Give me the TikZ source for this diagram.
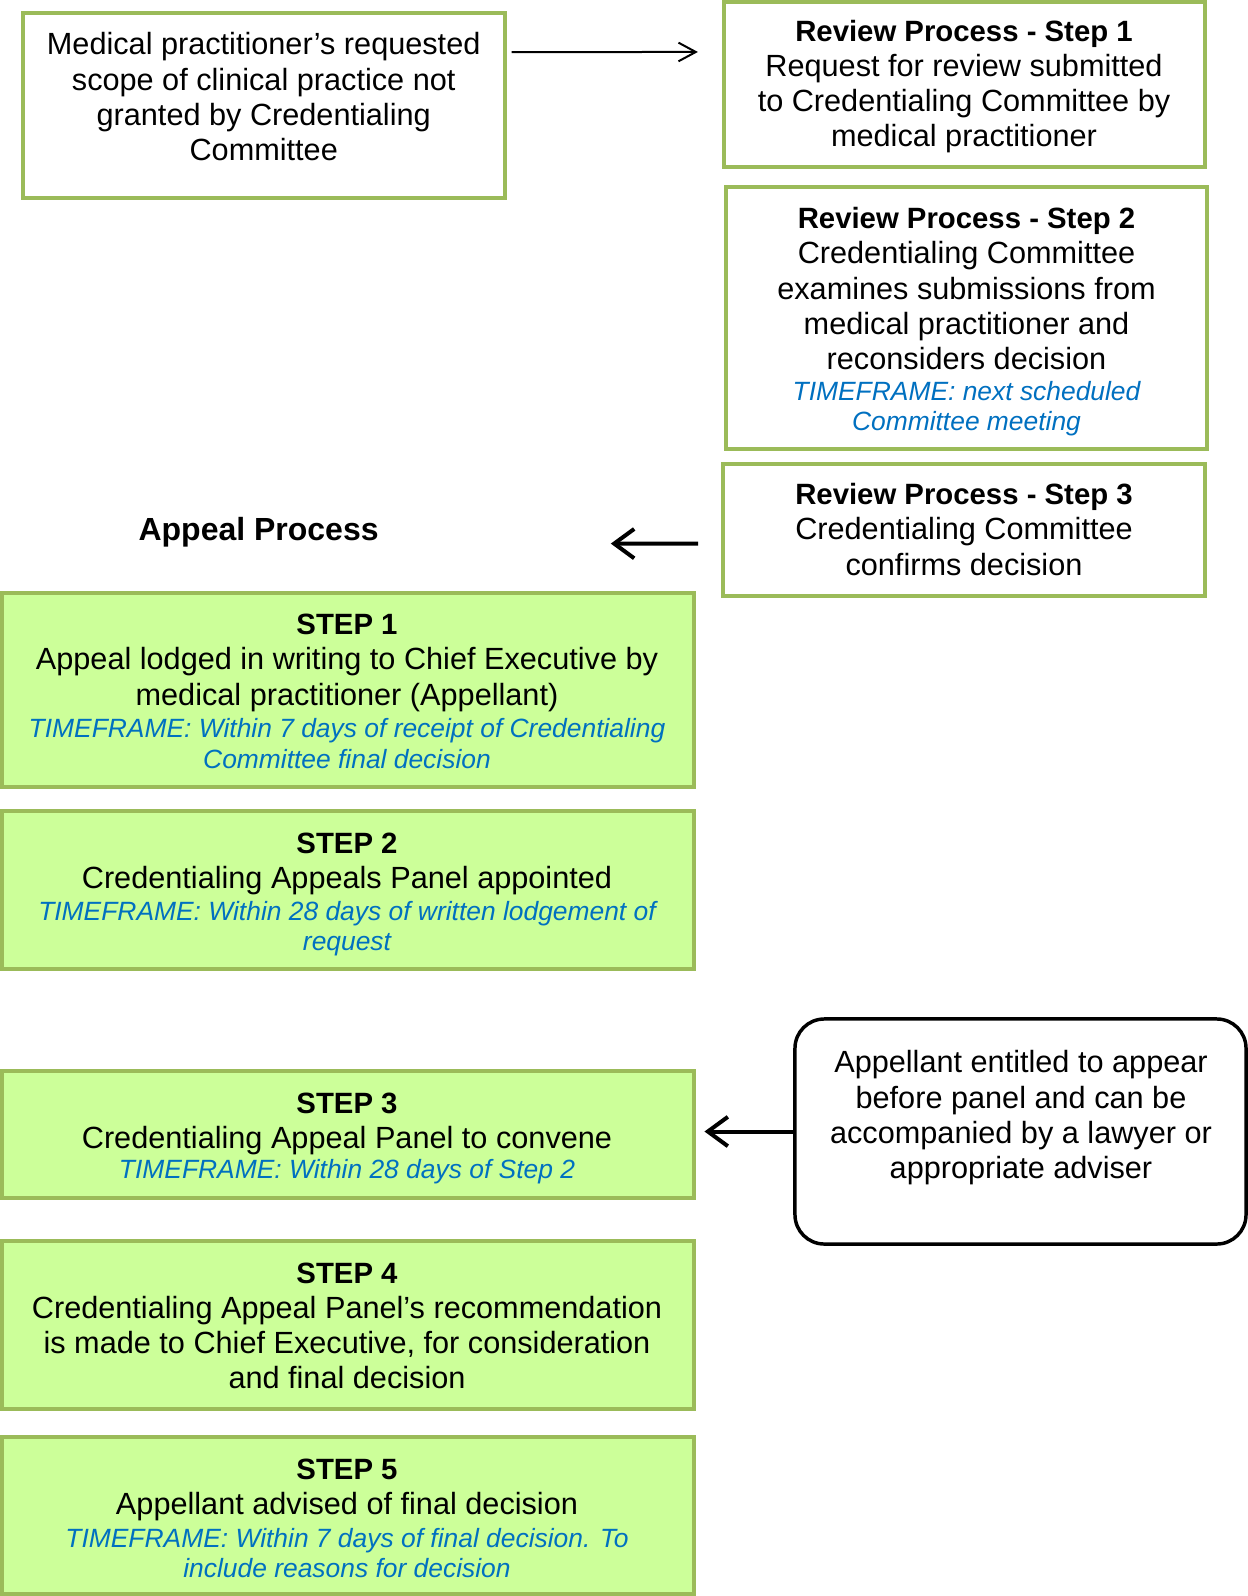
\documentclass[tikz,border=0pt]{standalone}
\usepackage{fontspec}
\setmainfont{Liberation Sans}
\usetikzlibrary{arrows.meta}
\definecolor{gborder}{HTML}{9BBB59}
\definecolor{gfill}{HTML}{CCFF99}
\definecolor{tblue}{HTML}{0070C0}
\newcommand{\hdr}[1]{{\fontsize{22}{26.45}\selectfont\bfseries #1}}
\tikzset{
  wbox/.style={draw=gborder, line width=3pt, fill=white, rectangle, inner sep=0pt, outer sep=0pt},
  gbox/.style={wbox, fill=gfill},
  rbox/.style={draw=black, line width=2.6pt, rectangle, rounded corners=22pt, inner sep=0pt, outer sep=0pt},
  maintxt/.style={font=\fontsize{23}{26.45}\selectfont, align=center, inner sep=0pt},
  tftxt/.style={font=\fontsize{19.8}{22.8}\selectfont\itshape, text=tblue, align=center, inner sep=0pt},
  thinarr/.style={-{Straight Barb[length=13pt,width=14pt,line width=1.5pt]}, line width=1.5pt},
  thickarr/.style={-{Straight Barb[length=15pt,width=22pt,line width=3pt]}, line width=3pt},
}
\begin{document}
\begin{tikzpicture}[x=0.75pt, y=-0.75pt]
\useasboundingbox (0,0) rectangle (1248,1596);
% boxes
\node[wbox, minimum width=361.2pt, minimum height=138.2pt] (start) at (264.2,105.4) {};
\node[wbox, minimum width=361.1pt, minimum height=123.8pt] (R1) at (964.5,84.5) {};
\node[wbox, minimum width=361.1pt, minimum height=196.3pt] (R2) at (966.5,318.2) {};
\node[wbox, minimum width=361.9pt, minimum height=98.5pt] (R3) at (964,529.9) {};
\node[gbox, minimum width=519.2pt, minimum height=145.1pt] (S1) at (348.2,690.2) {};
\node[gbox, minimum width=519.2pt, minimum height=118.4pt] (S2) at (348.2,890.2) {};
\node[gbox, minimum width=519.2pt, minimum height=95.4pt] (S3) at (348.2,1134.6) {};
\node[gbox, minimum width=519.2pt, minimum height=126pt] (S4) at (348.2,1325) {};
\node[gbox, minimum width=519.2pt, minimum height=117.4pt] (S5) at (348.2,1515.7) {};
\node[rbox, minimum width=338.3pt, minimum height=168.8pt] (adv) at (1020.5,1131.5) {};
% texts
\node[maintxt] (tstart) at (263.7,96.7) {Medical practitioner’s requested\\scope of clinical practice not\\granted by Credentialing\\Committee};
\node[maintxt] (tR1) at (964,86.5) {\hdr{Review Process - Step 1}\\Request for review submitted\\to Credentialing Committee by\\medical practitioner};
\node[maintxt] (tR2) at (966.5,288.6) {\hdr{Review Process - Step 2}\\Credentialing Committee\\examines submissions from\\medical practitioner and\\reconsiders decision};
\node[tftxt] (fR2) at (966.5,408.7) {TIMEFRAME: next scheduled\\Committee meeting};
\node[maintxt] (tR3) at (964,529.4) {\hdr{Review Process - Step 3}\\Credentialing Committee\\confirms decision};
\node[maintxt, font=\fontsize{24}{27.6}\selectfont\bfseries] (apt) at (258.6,532.4) {Appeal Process};
\node[maintxt] (tS1) at (347,662.7) {\hdr{STEP 1}\\Appeal lodged in writing to Chief Executive by\\medical practitioner (Appellant)};
\node[tftxt] (fS1) at (347,743.5) {TIMEFRAME: Within 7 days of receipt of Credentialing\\Committee final decision};
\node[maintxt] (tS2) at (347,863.7) {\hdr{STEP 2}\\Credentialing Appeals Panel appointed};
\node[tftxt] (fS2) at (347,928.9) {TIMEFRAME: Within 28 days of written lodgement of\\request};
\node[maintxt] (tS3) at (347,1123.7) {\hdr{STEP 3}\\Credentialing Appeal Panel to convene};
\node[tftxt] (fS3) at (347,1171.6) {TIMEFRAME: Within 28 days of Step 2};
\node[maintxt] (tS4) at (347,1325.9) {\hdr{STEP 4}\\Credentialing Appeal Panel’s recommendation\\is made to Chief Executive, for consideration\\and final decision};
\node[maintxt] (tS5) at (347,1489.8) {\hdr{STEP 5}\\Appellant advised of final decision};
\node[tftxt] (fS5) at (347,1552.9) {TIMEFRAME: Within 7 days of final decision. To\\include reasons for decision};
\node[maintxt] (tadv) at (1021,1117.7) {Appellant entitled to appear\\before panel and can be\\accompanied by a lawyer or\\appropriate adviser};
% connectors
\draw[thinarr] ([xshift=5pt,yshift=40pt]start.east) -- ([xshift=-19.4pt,yshift=24.4pt]R1.west);
\coordinate (apend) at (610.8,543.6);
\draw[thickarr] ([xshift=-18.4pt,yshift=-10.3pt]R3.west) -- (apend);
\draw[thickarr, shorten >=7.6pt] (adv.west) -- (adv.west -| S3.east);
\end{tikzpicture}
\end{document}
